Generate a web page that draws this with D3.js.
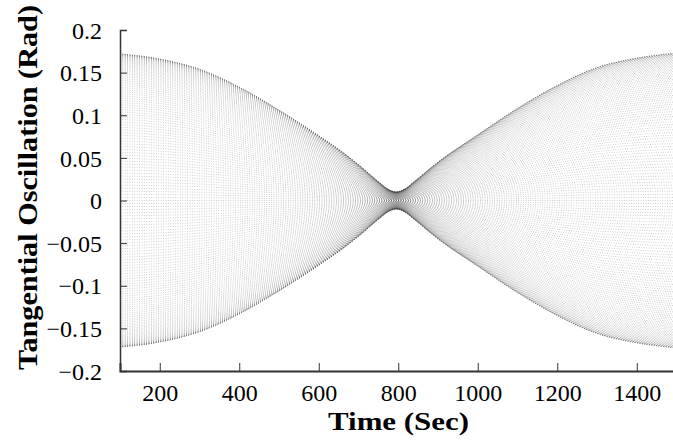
<!DOCTYPE html>
<html>
<head>
<meta charset="utf-8">
<script src="https://cdn.jsdelivr.net/npm/d3@7"></script>
<style>
  body { margin: 0; background: #fff; }
  svg text { font-family: "Times New Roman", Times, "Liberation Serif", serif; fill: #000; }
  .axis path, .axis line { stroke: #333; }
</style>
</head>
<body>
<svg id="chart" width="673" height="445"></svg>
<script>
// envelope of the oscillation (upper bound, rad)
const times = [100, 200, 300, 400, 500, 600, 650, 700, 750, 775, 795, 815, 840, 900, 1000, 1100, 1200, 1300, 1400, 1500]
const envelope = [0.172, 0.166, 0.154, 0.133, 0.106, 0.076, 0.060, 0.042, 0.022, 0.013, 0.010, 0.013, 0.022, 0.045, 0.077, 0.108, 0.135, 0.156, 0.167, 0.173]

const xTicks = [200, 400, 600, 800, 1000, 1200, 1400]
const yTicks = [0.2, 0.15, 0.1, 0.05, 0, -0.05, -0.1, -0.15, -0.2]

let serif = '"Times New Roman", Times, "Liberation Serif", serif'
let margin = { top: 30, left: 120, bottom: 371, right: 676.5 }

let svg = d3.select('#chart')

let x = d3.scaleLinear().domain([100, 1500]).range([margin.left, margin.right])
let y = d3.scaleLinear().domain([-0.2, 0.2]).range([margin.bottom, margin.top])

let env = times.map((t, i) => ({ t: t, a: envelope[i] }))

svg.append('clipPath').attr('id', 'plot')
  .append('rect')
  .attr('x', margin.left).attr('y', margin.top)
  .attr('width', margin.right - margin.left)
  .attr('height', margin.bottom - margin.top)

let band = svg.append('g').attr('clip-path', 'url(#plot)')

// the fast oscillation fills the envelope: draw its traces as nested
// copies of the envelope, packed tighter toward the edges
let nLevels = 150
let levels = d3.range(nLevels + 1).map((j) => Math.cos(Math.PI * j / nLevels))

levels.forEach((c) => {
  let line = d3.line()
    .x((d) => x(d.t))
    .y((d) => y(c * d.a))
    .curve(d3.curveMonotoneX)
  band.append('path')
    .datum(env)
    .attr('d', line)
    .attr('fill', 'none')
    .attr('stroke', '#333')
    .attr('stroke-width', 0.3)
    .attr('stroke-dasharray', '0.8 1.6')
})

// axes
let yAxis = d3.axisLeft(y).tickValues(yTicks).tickSize(-7).tickPadding(18)
  .tickFormat((d) => d3.format('')(+d.toFixed(2)))
let gy = svg.append('g').attr('class', 'axis')
  .attr('transform', 'translate(' + margin.left + ',0)')
  .call(yAxis)
gy.attr('font-family', serif)
gy.select('.domain').attr('stroke-width', 1.5)
gy.selectAll('.tick text').style('font-size', '24px').attr('dy', '0.34em')

let xAxis = d3.axisBottom(x).tickValues(xTicks).tickSize(-8).tickPadding(13)
  .tickFormat(d3.format('d'))
let gx = svg.append('g').attr('class', 'axis')
  .attr('transform', 'translate(0,' + margin.bottom + ')')
  .call(xAxis)
gx.attr('font-family', serif)
gx.select('.domain').attr('stroke-width', 2).attr('stroke', '#555')
gx.selectAll('.tick text').style('font-size', '24px').attr('dy', '0.71em')

// titles
svg.append('text')
  .attr('x', 398.5).attr('y', 430)
  .attr('text-anchor', 'middle')
  .attr('font-family', serif)
  .attr('textLength', 141).attr('lengthAdjust', 'spacingAndGlyphs')
  .style('font-size', '26px').style('font-weight', 'bold')
  .text('Time (Sec)')

svg.append('text')
  .attr('transform', 'translate(37,187.5)rotate(-90)')
  .attr('text-anchor', 'middle')
  .attr('font-family', serif)
  .attr('textLength', 365).attr('lengthAdjust', 'spacingAndGlyphs')
  .style('font-size', '27px').style('font-weight', 'bold')
  .text('Tangential Oscillation (Rad)')
</script>
</body>
</html>
